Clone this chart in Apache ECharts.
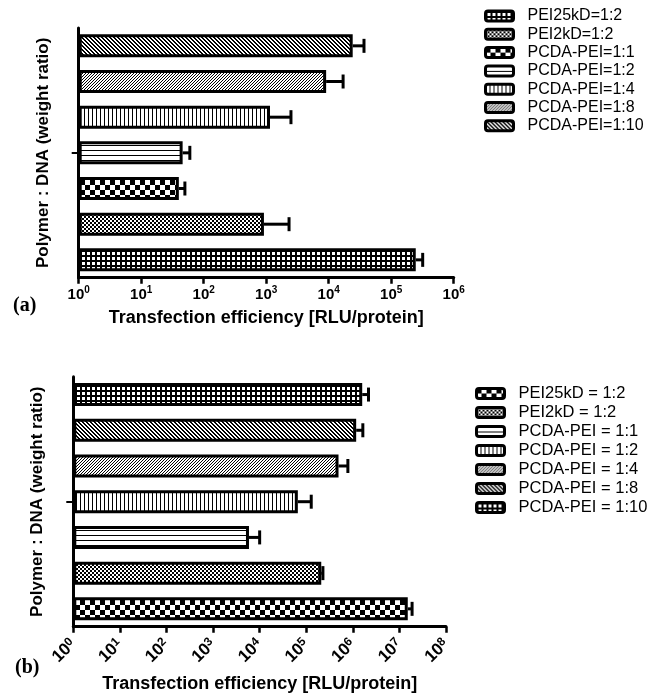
<!DOCTYPE html>
<html><head><meta charset="utf-8">
<script src="https://cdn.jsdelivr.net/npm/echarts@6/dist/echarts.min.js"></script>
<style>html,body{margin:0;padding:0;background:#fff}#c{width:663px;height:696px}</style>
</head><body><div id="c"></div>
<script>
// ---- data (a) ----
const catsA = ['PEI25kD=1:2','PEI2kD=1:2','PCDA-PEI=1:1','PCDA-PEI=1:2','PCDA-PEI=1:4','PCDA-PEI=1:8','PCDA-PEI=1:10'];
const meanA = [247000, 920, 40, 46, 1150, 9100, 24200];
const errA  = [72000, 1400, 10, 14, 1340, 7900, 12500];
const ticksA = [1, 10, 100, 1000, 10000, 100000, 1000000];
// ---- data (b) ----
const catsB = ['PEI25kD = 1:2','PEI2kD = 1:2','PCDA-PEI = 1:1','PCDA-PEI = 1:2','PCDA-PEI = 1:4','PCDA-PEI = 1:8','PCDA-PEI = 1:10'];
const meanB = [15100000, 210000, 5900, 66000, 493000, 1180000, 1590000];
const errB  = [3600000, 18000, 4100, 62000, 290000, 460000, 580000];
const ticksB = [1, 10, 100, 1000, 10000, 100000, 1000000, 10000000, 100000000];

// ---- fill patterns ----
function mk(w, h, draw) {
  const c = document.createElement('canvas'); c.width = w; c.height = h;
  const g = c.getContext('2d'); g.fillStyle = '#fff'; g.fillRect(0, 0, w, h);
  g.fillStyle = '#000'; draw(g); return { image: c, repeat: 'repeat' };
}
const P = {
  grid: () => mk(5, 5, g => { g.fillRect(0, 0, 2, 5); g.fillRect(0, 0, 5, 2); }),
  fine: () => mk(4, 4, g => { g.fillRect(0, 0, 2, 2); g.fillRect(2, 2, 2, 2); }),
  checker: () => mk(10, 10, g => { g.fillRect(0, 0, 5, 5); g.fillRect(5, 5, 5, 5); }),
  horiz: () => mk(1, 5, g => { g.fillRect(0, 0, 1, 1); }),
  vert: () => mk(4, 1, g => { g.fillRect(0, 0, 1, 1); }),
  fwd: () => mk(3, 3, g => { for (let y = 0; y < 3; y++) g.fillRect((2 - y) % 3, y, 1, 1); }),
  back: () => mk(4, 4, g => { for (let y = 0; y < 4; y++) for (let k = 0; k < 2; k++) g.fillRect((y + k) % 4, y, 1, 1); })
};
const patA = ['grid', 'fine', 'checker', 'horiz', 'vert', 'fwd', 'back'];
const patB = ['checker', 'fine', 'horiz', 'vert', 'fwd', 'back', 'grid'];

const FONT = 'Liberation Sans, Arial, sans-serif';
function mkRich(bs, ss) {
  return {
    b: { fontFamily: FONT, fontWeight: 'bold', fontSize: bs, color: '#000', lineHeight: 18 },
    s: { fontFamily: FONT, fontWeight: 'bold', fontSize: ss, color: '#000', lineHeight: 18, verticalAlign: 'top', padding: [0, 0, 8, 0] }
  };
}
function expFmt(v) { return '{b|10}{s|' + Math.round(Math.log10(v)) + '}'; }

function barSeries(cats, means, pats, gi) {
  return cats.map((name, i) => ({
    type: 'bar', name: name, xAxisIndex: gi, yAxisIndex: gi,
    barWidth: 23, barGap: '-100%',
    data: cats.map((c, j) => j === i ? means[i] : '-'),
    itemStyle: { color: P[pats[i]](), borderColor: '#000', borderWidth: 3 },
    emphasis: { disabled: true }
  }));
}
function errSeries(means, errs, gi) {
  return {
    type: 'custom', xAxisIndex: gi, yAxisIndex: gi, z: 1,
    data: means.map((m, i) => [m, m + errs[i], i]),
    encode: { x: [0, 1], y: 2 },
    renderItem: (params, api) => {
      const p0 = api.coord([api.value(0), api.value(2)]);
      const p1 = api.coord([api.value(1), api.value(2)]);
      const h = 7;
      return { type: 'group', children: [
        { type: 'line', shape: { x1: p0[0], y1: p0[1], x2: p1[0], y2: p1[1] }, style: { stroke: '#000', lineWidth: 3 } },
        { type: 'line', shape: { x1: p1[0], y1: p1[1] - h, x2: p1[0], y2: p1[1] + h }, style: { stroke: '#000', lineWidth: 3 } }
      ] };
    }
  };
}
function xAxis(gi, max, rotate, nameGap, margin, bs, ss) {
  return {
    type: 'log', logBase: 10, gridIndex: gi, min: 1, max: max, splitNumber: Math.round(Math.log10(max)),
    name: 'Transfection efficiency [RLU/protein]', nameLocation: 'middle', nameGap: nameGap,
    nameTextStyle: { fontFamily: FONT, fontWeight: 'bold', fontSize: 18, color: '#000' },
    axisLine: { show: true, lineStyle: { color: '#000', width: 3 } },
    axisTick: { show: true, length: 6, lineStyle: { color: '#000', width: 2.5 } },
    minorTick: { show: false }, splitLine: { show: false },
    axisLabel: { formatter: expFmt, rich: mkRich(bs, ss), margin: margin, rotate: rotate }
  };
}
function yAxis(gi, cats) {
  return {
    type: 'category', gridIndex: gi, data: cats,
    name: 'Polymer : DNA (weight ratio)', nameLocation: 'middle', nameGap: 27,
    nameTextStyle: { fontFamily: FONT, fontWeight: 'bold', fontSize: 17, color: '#000' },
    axisLine: { show: true, lineStyle: { color: '#000', width: 3 } },
    axisTick: { show: true, alignWithLabel: true, length: 7, interval: (idx) => idx === 3, lineStyle: { color: '#000', width: 2 } },
    axisLabel: { show: false }, splitLine: { show: false }
  };
}
function legend(cats, left, top, gap, fs) {
  return {
    orient: 'vertical', left: left, top: top, itemGap: gap, itemWidth: 28, itemHeight: 10,
    icon: 'roundRect', data: cats, selectedMode: false,
    itemStyle: { borderColor: '#000', borderWidth: 3 },
    textStyle: { fontFamily: FONT, fontSize: fs, color: '#000', lineHeight: 14, padding: [0, 0, 0, 9] }
  };
}

const chart = echarts.init(document.getElementById('c'), null, { renderer: 'canvas' });
chart.setOption({
  backgroundColor: '#fff',
  animation: false,
  grid: [
    { left: 78.7, top: 28, width: 375, height: 249.7, outerBoundsMode: 'none' },
    { left: 73.3, top: 376.7, width: 372.7, height: 250, outerBoundsMode: 'none' }
  ],
  xAxis: [xAxis(0, ticksA[ticksA.length - 1], 0, 31, 8, 15, 10), xAxis(1, ticksB[ticksB.length - 1], 45, 48, 15, 17, 12)],
  yAxis: [yAxis(0, catsA), yAxis(1, catsB)],
  legend: [legend(catsA, 479, 3, 2.3, 16), legend(catsB, 470, 380, 2, 16.5)],
  series: [].concat(barSeries(catsA, meanA, patA, 0), [errSeries(meanA, errA, 0)],
                    barSeries(catsB, meanB, patB, 1), [errSeries(meanB, errB, 1)]),
  graphic: [
    { type: 'text', left: 13, top: 296, style: { text: '(a)', font: 'bold 20px "Liberation Serif", "Times New Roman", serif', fill: '#000' } },
    { type: 'text', left: 15, top: 658, style: { text: '(b)', font: 'bold 20px "Liberation Serif", "Times New Roman", serif', fill: '#000' } }
  ]
});
</script></body></html>
